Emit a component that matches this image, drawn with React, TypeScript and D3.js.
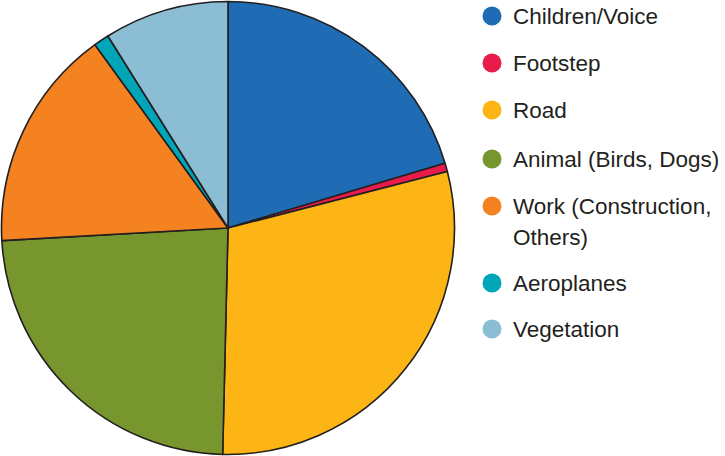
import { useEffect, useRef } from "react";
import * as d3 from "d3";

const categories = [
  "Children/Voice",
  "Footstep",
  "Road",
  "Animal (Birds, Dogs)",
  "Work (Construction, Others)",
  "Aeroplanes",
  "Vegetation",
];
const values = [20.4, 0.6, 29.4, 23.75, 15.9, 1.1, 8.9];
const colors = ["#1f6cb4", "#e91b4b", "#fdb515", "#78962e", "#f58220", "#00a5b7", "#8bbdd5"];
// legend lines (Work wraps onto two lines)
const legendLines = [
  ["Children/Voice"],
  ["Footstep"],
  ["Road"],
  ["Animal (Birds, Dogs)"],
  ["Work (Construction,", "Others)"],
  ["Aeroplanes"],
  ["Vegetation"],
];

export default function App() {
  const ref = useRef<SVGSVGElement>(null);

  useEffect(() => {
    const svg = d3.select(ref.current);
    svg.selectAll("*").remove();

    const width = 725;
    const height = 456;
    const cx = 228;
    const cy = 228;
    const radius = 226.5;

    const data = categories.map((c, i) => ({ label: c, value: values[i], color: colors[i] }));

    const pie = d3.pie<any>().value((d) => d.value).sort(null);
    const arc = d3.arc<any>().innerRadius(0).outerRadius(radius);

    const g = svg.append("g").attr("transform", `translate(${cx},${cy})`);
    g.selectAll("path")
      .data(pie(data))
      .enter()
      .append("path")
      .attr("d", arc)
      .attr("fill", (d) => d.data.color)
      .attr("stroke", "#231f20")
      .attr("stroke-width", 1.6)
      .attr("stroke-linejoin", "round");

    // Legend
    const lx = 492;
    const rowY = [16, 63, 110, 159, 206, 283, 329];
    const legend = svg.append("g");
    legendLines.forEach((lines, i) => {
      legend
        .append("circle")
        .attr("cx", lx)
        .attr("cy", rowY[i])
        .attr("r", 9.5)
        .attr("fill", colors[i]);
      lines.forEach((t, j) => {
        legend
          .append("text")
          .attr("x", lx + 21)
          .attr("y", rowY[i] + j * 31)
          .attr("dy", "0.35em")
          .attr("font-family", "Liberation Sans, Arial, sans-serif")
          .attr("font-size", 22.5)
          .attr("fill", "#231f20")
          .text(t);
      });
    });

    svg.attr("width", width).attr("height", height);
  }, []);

  return (
    <svg
      ref={ref}
      width={725}
      height={456}
      style={{ position: "absolute", left: 0, top: 0, background: "#fff" }}
    />
  );
}
